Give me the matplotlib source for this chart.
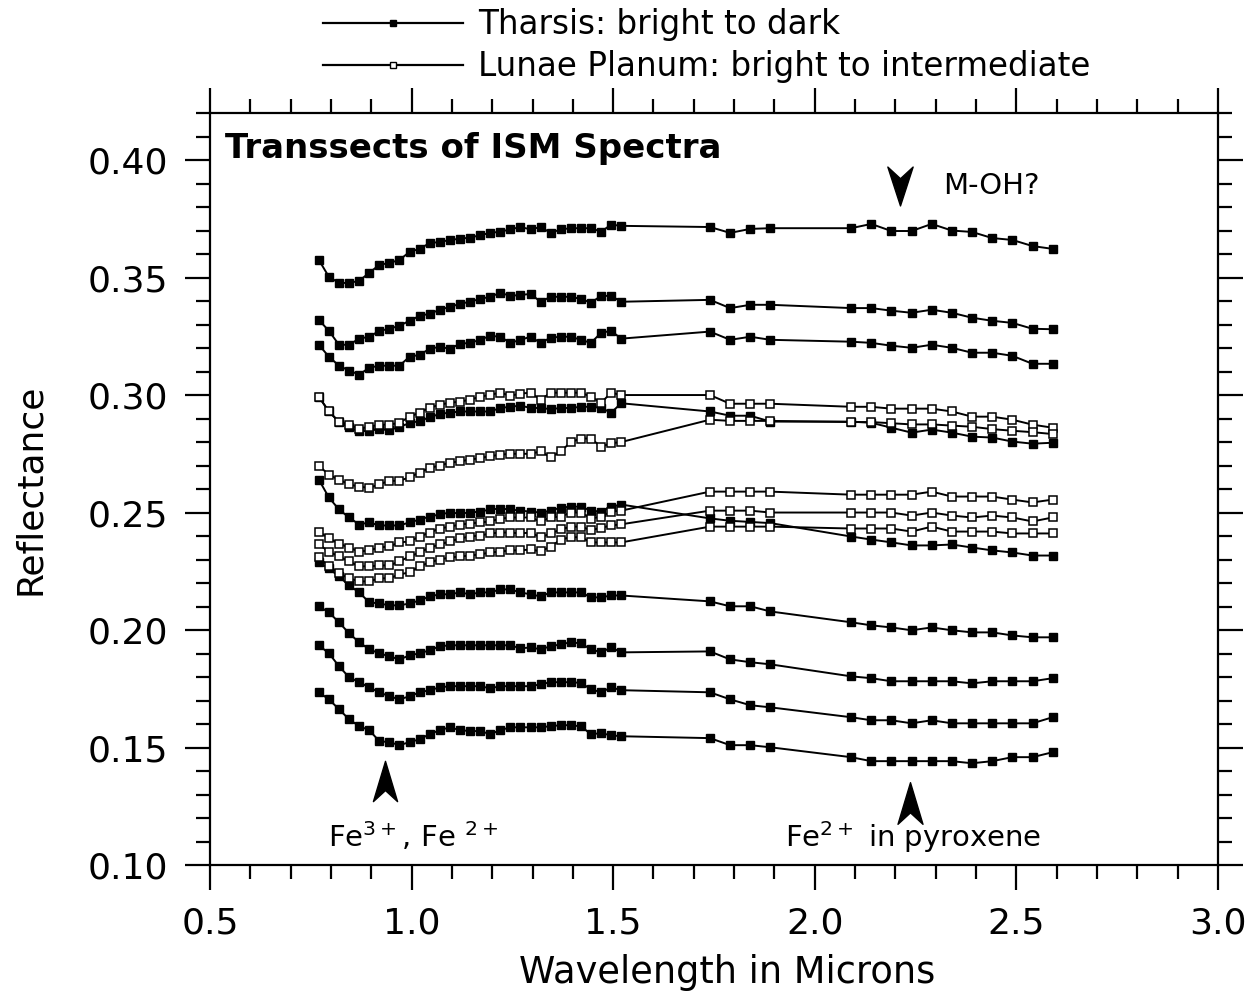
import matplotlib
matplotlib.use('Agg')
import matplotlib.pyplot as plt
from matplotlib.path import Path
from matplotlib.ticker import MultipleLocator, FormatStrFormatter
from matplotlib.lines import Line2D

plt.rcParams['font.family'] = ['DejaVu Sans']

# ISM channel wavelengths (microns)
wavelength = [0.770, 0.795, 0.820, 0.845, 0.870, 0.895, 0.920, 0.945, 0.970, 0.995,
              1.020, 1.045, 1.070, 1.095, 1.120, 1.145, 1.170, 1.195, 1.220, 1.245,
              1.270, 1.295, 1.320, 1.345, 1.370, 1.395, 1.420, 1.445, 1.470, 1.495,
              1.520, 1.740, 1.790, 1.840, 1.890, 2.090, 2.140, 2.190, 2.240, 2.290,
              2.340, 2.390, 2.440, 2.490, 2.540, 2.590]

# Tharsis transect: bright to dark (filled squares)
tharsis_1 = [0.3575, 0.3503, 0.3477, 0.3477, 0.3486, 0.3520, 0.3554, 0.3562, 0.3575, 0.3609,
             0.3622, 0.3647, 0.3651, 0.3660, 0.3665, 0.3670, 0.3680, 0.3690, 0.3695, 0.3705,
             0.3715, 0.3705, 0.3715, 0.3690, 0.3705, 0.3710, 0.3710, 0.3710, 0.3695, 0.3725,
             0.3720, 0.3715, 0.3690, 0.3707, 0.3710, 0.3710, 0.3728, 0.3698, 0.3698, 0.3728,
             0.3700, 0.3694, 0.3668, 0.3660, 0.3634, 0.3622]
tharsis_2 = [0.3320, 0.3273, 0.3214, 0.3214, 0.3240, 0.3248, 0.3273, 0.3282, 0.3295, 0.3316,
             0.3337, 0.3346, 0.3363, 0.3375, 0.3388, 0.3397, 0.3409, 0.3418, 0.3435, 0.3422,
             0.3426, 0.3430, 0.3397, 0.3418, 0.3418, 0.3418, 0.3409, 0.3393, 0.3422, 0.3422,
             0.3397, 0.3405, 0.3370, 0.3384, 0.3384, 0.3370, 0.3370, 0.3359, 0.3350, 0.3363,
             0.3350, 0.3329, 0.3316, 0.3307, 0.3282, 0.3280]
tharsis_3 = [0.3214, 0.3163, 0.3125, 0.3104, 0.3087, 0.3116, 0.3125, 0.3125, 0.3125, 0.3163,
             0.3171, 0.3197, 0.3205, 0.3197, 0.3218, 0.3222, 0.3235, 0.3252, 0.3248, 0.3222,
             0.3235, 0.3248, 0.3222, 0.3244, 0.3248, 0.3248, 0.3235, 0.3222, 0.3265, 0.3273,
             0.3240, 0.3270, 0.3235, 0.3248, 0.3235, 0.3227, 0.3222, 0.3210, 0.3201, 0.3214,
             0.3201, 0.3180, 0.3180, 0.3167, 0.3133, 0.3133]
tharsis_4 = [0.2993, 0.2930, 0.2885, 0.2863, 0.2845, 0.2848, 0.2855, 0.2850, 0.2865, 0.2880,
             0.2890, 0.2905, 0.2920, 0.2925, 0.2930, 0.2930, 0.2930, 0.2930, 0.2945, 0.2950,
             0.2955, 0.2945, 0.2945, 0.2940, 0.2945, 0.2945, 0.2950, 0.2950, 0.2945, 0.2925,
             0.2965, 0.2930, 0.2912, 0.2912, 0.2887, 0.2887, 0.2882, 0.2861, 0.2840, 0.2853,
             0.2840, 0.2823, 0.2819, 0.2802, 0.2793, 0.2797]
tharsis_5 = [0.2640, 0.2564, 0.2513, 0.2479, 0.2449, 0.2458, 0.2445, 0.2445, 0.2445, 0.2458,
             0.2470, 0.2483, 0.2492, 0.2500, 0.2496, 0.2500, 0.2504, 0.2513, 0.2517, 0.2513,
             0.2508, 0.2504, 0.2500, 0.2508, 0.2521, 0.2525, 0.2525, 0.2508, 0.2504, 0.2525,
             0.2534, 0.2475, 0.2465, 0.2460, 0.2455, 0.2398, 0.2385, 0.2373, 0.2360, 0.2360,
             0.2364, 0.2351, 0.2339, 0.2330, 0.2317, 0.2317]
tharsis_6 = [0.2288, 0.2262, 0.2228, 0.2190, 0.2160, 0.2118, 0.2113, 0.2105, 0.2105, 0.2113,
             0.2126, 0.2143, 0.2152, 0.2152, 0.2160, 0.2152, 0.2160, 0.2160, 0.2173, 0.2173,
             0.2160, 0.2152, 0.2143, 0.2160, 0.2160, 0.2160, 0.2160, 0.2139, 0.2139, 0.2147,
             0.2147, 0.2122, 0.2101, 0.2101, 0.2079, 0.2033, 0.2020, 0.2011, 0.1999, 0.2011,
             0.1999, 0.1990, 0.1990, 0.1977, 0.1969, 0.1969]
tharsis_7 = [0.2101, 0.2075, 0.2033, 0.1986, 0.1948, 0.1918, 0.1901, 0.1888, 0.1875, 0.1892,
             0.1901, 0.1914, 0.1931, 0.1935, 0.1935, 0.1935, 0.1935, 0.1935, 0.1935, 0.1935,
             0.1922, 0.1926, 0.1918, 0.1931, 0.1939, 0.1948, 0.1943, 0.1918, 0.1905, 0.1926,
             0.1905, 0.1909, 0.1875, 0.1863, 0.1854, 0.1803, 0.1795, 0.1782, 0.1782, 0.1782,
             0.1782, 0.1773, 0.1782, 0.1782, 0.1782, 0.1795]
tharsis_8 = [0.1935, 0.1901, 0.1846, 0.1799, 0.1778, 0.1756, 0.1735, 0.1718, 0.1705, 0.1718,
             0.1735, 0.1744, 0.1756, 0.1761, 0.1761, 0.1761, 0.1761, 0.1752, 0.1761, 0.1761,
             0.1761, 0.1761, 0.1769, 0.1778, 0.1778, 0.1778, 0.1775, 0.1748, 0.1735, 0.1756,
             0.1744, 0.1735, 0.1705, 0.1680, 0.1671, 0.1629, 0.1616, 0.1616, 0.1603, 0.1616,
             0.1603, 0.1603, 0.1603, 0.1603, 0.1603, 0.1629]
tharsis_9 = [0.1735, 0.1705, 0.1663, 0.1620, 0.1591, 0.1574, 0.1527, 0.1523, 0.1510, 0.1523,
             0.1535, 0.1557, 0.1574, 0.1586, 0.1574, 0.1570, 0.1570, 0.1557, 0.1574, 0.1586,
             0.1586, 0.1586, 0.1586, 0.1591, 0.1595, 0.1595, 0.1590, 0.1557, 0.1561, 0.1552,
             0.1548, 0.1540, 0.1510, 0.1510, 0.1501, 0.1459, 0.1442, 0.1442, 0.1442, 0.1442,
             0.1442, 0.1433, 0.1442, 0.1459, 0.1459, 0.1480]

# Lunae Planum transect: bright to intermediate (open squares)
lunae_1 = [0.2993, 0.2930, 0.2887, 0.2874, 0.2857, 0.2865, 0.2874, 0.2874, 0.2882, 0.2908,
           0.2925, 0.2946, 0.2959, 0.2967, 0.2972, 0.2980, 0.2993, 0.3001, 0.3010, 0.2997,
           0.3006, 0.3010, 0.2980, 0.3010, 0.3010, 0.3010, 0.3010, 0.2993, 0.2967, 0.3010,
           0.3000, 0.3000, 0.2963, 0.2963, 0.2963, 0.2950, 0.2950, 0.2942, 0.2942, 0.2942,
           0.2930, 0.2908, 0.2908, 0.2895, 0.2874, 0.2861]
lunae_2 = [0.2700, 0.2660, 0.2640, 0.2620, 0.2610, 0.2605, 0.2620, 0.2635, 0.2635, 0.2650,
           0.2670, 0.2690, 0.2700, 0.2712, 0.2718, 0.2725, 0.2732, 0.2740, 0.2746, 0.2750,
           0.2750, 0.2750, 0.2760, 0.2735, 0.2760, 0.2800, 0.2815, 0.2815, 0.2780, 0.2795,
           0.2800, 0.2895, 0.2890, 0.2890, 0.2890, 0.2885, 0.2885, 0.2880, 0.2875, 0.2875,
           0.2870, 0.2865, 0.2855, 0.2848, 0.2842, 0.2834]
lunae_3 = [0.2419, 0.2390, 0.2368, 0.2351, 0.2334, 0.2339, 0.2351, 0.2356, 0.2373, 0.2377,
           0.2398, 0.2415, 0.2432, 0.2440, 0.2449, 0.2453, 0.2458, 0.2462, 0.2474, 0.2479,
           0.2479, 0.2479, 0.2462, 0.2479, 0.2483, 0.2500, 0.2500, 0.2474, 0.2483, 0.2504,
           0.2508, 0.2589, 0.2589, 0.2589, 0.2589, 0.2576, 0.2576, 0.2576, 0.2576, 0.2589,
           0.2568, 0.2568, 0.2568, 0.2555, 0.2543, 0.2555]
lunae_4 = [0.2364, 0.2334, 0.2313, 0.2292, 0.2271, 0.2271, 0.2275, 0.2275, 0.2292, 0.2313,
           0.2330, 0.2351, 0.2364, 0.2377, 0.2390, 0.2398, 0.2402, 0.2411, 0.2415, 0.2415,
           0.2411, 0.2415, 0.2394, 0.2411, 0.2428, 0.2440, 0.2440, 0.2425, 0.2435, 0.2445,
           0.2450, 0.2508, 0.2508, 0.2508, 0.2500, 0.2500, 0.2500, 0.2500, 0.2487, 0.2500,
           0.2487, 0.2479, 0.2487, 0.2479, 0.2462, 0.2479]
lunae_5 = [0.2309, 0.2271, 0.2241, 0.2220, 0.2207, 0.2207, 0.2220, 0.2220, 0.2237, 0.2245,
           0.2271, 0.2288, 0.2300, 0.2309, 0.2313, 0.2317, 0.2322, 0.2330, 0.2334, 0.2339,
           0.2339, 0.2343, 0.2335, 0.2355, 0.2385, 0.2395, 0.2395, 0.2373, 0.2373, 0.2373,
           0.2373, 0.2440, 0.2440, 0.2440, 0.2440, 0.2432, 0.2432, 0.2432, 0.2419, 0.2440,
           0.2419, 0.2419, 0.2419, 0.2411, 0.2411, 0.2411]

tharsis = [tharsis_1, tharsis_2, tharsis_3, tharsis_4, tharsis_5,
           tharsis_6, tharsis_7, tharsis_8, tharsis_9]
lunae = [lunae_1, lunae_2, lunae_3, lunae_4, lunae_5]

fig = plt.figure(figsize=(12.55, 9.96), dpi=100)
ax = fig.add_axes([0.1673, 0.1315, 0.8032, 0.755])

line_kw = dict(color='black', lw=1.4, marker='s', markersize=5.5)
for s in tharsis:
    ax.plot(wavelength, s, mfc='black', mec='black', **line_kw)
for s in lunae:
    ax.plot(wavelength, s, mfc='white', mec='black', mew=1.1, **line_kw)

ax.set_xlim(0.5, 3.0)
ax.set_ylim(0.10, 0.42)
ax.xaxis.set_major_locator(MultipleLocator(0.5))
ax.xaxis.set_minor_locator(MultipleLocator(0.1))
ax.yaxis.set_major_locator(MultipleLocator(0.05))
ax.yaxis.set_minor_locator(MultipleLocator(0.01))
ax.xaxis.set_major_formatter(FormatStrFormatter('%.1f'))
ax.yaxis.set_major_formatter(FormatStrFormatter('%.2f'))
ax.tick_params(which='both', direction='out', top=True, right=True,
               width=1.6, labelsize=26, pad=12)
ax.tick_params(which='major', length=18)
ax.tick_params(which='minor', length=10)
for sp in ax.spines.values():
    sp.set_linewidth(1.6)

ax.set_xlabel('Wavelength in Microns', fontsize=26.5)
ax.set_ylabel('Reflectance', fontsize=26)
ax.xaxis.set_label_coords(0.513, -0.118)
ax.yaxis.set_label_coords(-0.162, 0.5)

ax.text(0.015, 0.953, 'Transsects of ISM Spectra', transform=ax.transAxes,
        fontsize=24.5, fontweight='bold', va='center', ha='left')

# absorption band markers
down_arrow = Path([(0, -1), (-0.65, 1), (0, 0.4), (0.65, 1), (0, -1)],
                  [Path.MOVETO, Path.LINETO, Path.LINETO, Path.LINETO, Path.CLOSEPOLY])
up_arrow = Path([(0, 1), (-0.6, -1), (0, -0.45), (0.6, -1), (0, 1)],
                [Path.MOVETO, Path.LINETO, Path.LINETO, Path.LINETO, Path.CLOSEPOLY])
ax.plot([2.211], [0.389], marker=down_arrow, ms=28, color='black', ls='none')
ax.plot([0.934], [0.1357], marker=up_arrow, ms=29, color='black', ls='none')
ax.plot([2.236], [0.1263], marker=up_arrow, ms=30, color='black', ls='none')
ax.text(2.318, 0.389, 'M-OH?', fontsize=21, va='center', ha='left')
ax.text(0.793, 0.1076, r'Fe$^{3+}$, Fe $^{2+}$', fontsize=21, va='baseline', ha='left')
ax.text(1.926, 0.1076, r'Fe$^{2+}$ in pyroxene', fontsize=21, va='baseline', ha='left')

handles = [Line2D([], [], color='black', lw=1.6, marker='s', markersize=4,
                  mfc='black', mec='black'),
           Line2D([], [], color='black', lw=1.6, marker='s', markersize=4,
                  mfc='white', mec='black', mew=1)]
labels = ['Tharsis: bright to dark', 'Lunae Planum: bright to intermediate']
ax.legend(handles, labels, loc='upper left', bbox_to_anchor=(323 / 1255, 1 - 8 / 996),
          bbox_transform=fig.transFigure, frameon=False, fontsize=23.5,
          handlelength=4.3, handletextpad=0.45, borderpad=0, borderaxespad=0,
          labelspacing=0.29, numpoints=1)

fig.savefig('out.png', dpi=100)
